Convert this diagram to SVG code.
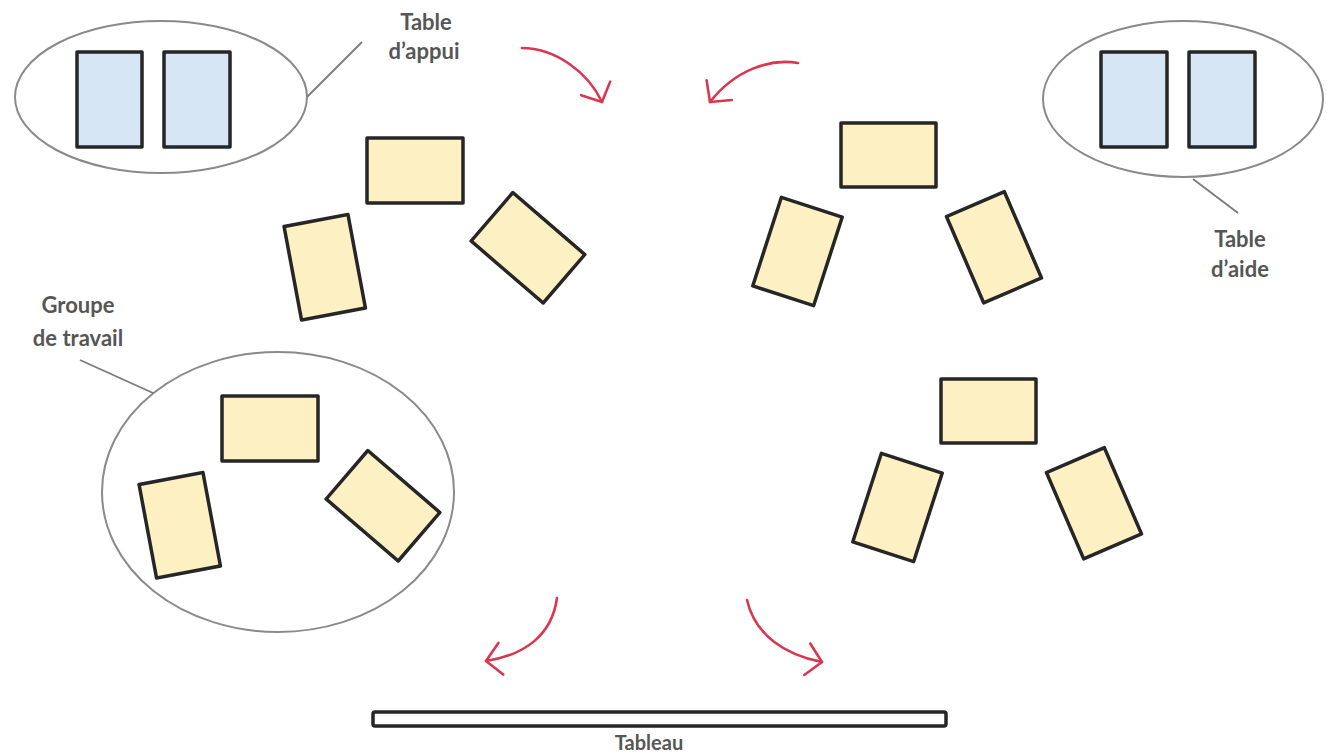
<svg xmlns="http://www.w3.org/2000/svg" width="1327" height="756" viewBox="0 0 1327 756">
<style>
.bg{fill:#ffffff}
.zone{fill:none;stroke:#8a8a8a;stroke-width:2}
.desk{fill:#fdf0c2;stroke:#262626;stroke-width:3.5;stroke-linejoin:round}
.aid{fill:#d6e6f5;stroke:#262626;stroke-width:3.5;stroke-linejoin:round}
.board{fill:#ffffff;stroke:#262626;stroke-width:3.5}
.lead{fill:none;stroke:#7a7a7a;stroke-width:1.8}
.flow{fill:none;stroke:#d8384f;stroke-width:2.6;stroke-linecap:round}
.lbl{font-family:Lato,"Liberation Sans",sans-serif;font-weight:bold;font-size:22px;fill:#565656;text-anchor:middle}
</style>
<defs>
<marker id="v" markerUnits="userSpaceOnUse" viewBox="-20 -20 24 40" refX="0" refY="0" markerWidth="24" markerHeight="40" orient="auto">
<path d="M-15,-16 L0,0 L-15,16" fill="none" stroke="#d8384f" stroke-width="2.6" stroke-linecap="round" stroke-linejoin="round"/>
</marker>
<g id="grpL">
<rect class="desk" x="367" y="138" width="96" height="65"/>
<rect class="desk" x="-32.5" y="-47.5" width="65" height="95" transform="translate(324.75 267.25) rotate(-10.6)"/>
<rect class="desk" x="-47.5" y="-32" width="95" height="64" transform="translate(528 247.75) rotate(40.7)"/>
</g>
<g id="grpR">
<rect class="desk" x="841" y="123" width="95" height="64"/>
<rect class="desk" x="-32" y="-46.5" width="64" height="93" transform="translate(797.5 251.5) rotate(17.9)"/>
<rect class="desk" x="-31.5" y="-47" width="63" height="94" transform="translate(994 247.25) rotate(-23.3)"/>
</g>
</defs>
<rect class="bg" x="0" y="0" width="1327" height="756"/>

<g id="table-appui">
<ellipse class="zone" cx="161" cy="97" rx="146" ry="76"/>
<rect class="aid" x="77" y="52" width="65" height="95"/>
<rect class="aid" x="164" y="52" width="66" height="95"/>
</g>

<g id="table-aide">
<ellipse class="zone" cx="1183" cy="99" rx="140" ry="78"/>
<rect class="aid" x="1101" y="52" width="66" height="95"/>
<rect class="aid" x="1189" y="52" width="66" height="95"/>
</g>

<g id="groupe-haut-gauche"><use href="#grpL"/></g>
<g id="groupe-travail">
<ellipse class="zone" cx="278" cy="492" rx="176" ry="140"/>
<use href="#grpL" transform="translate(-145 258)"/>
</g>
<g id="groupe-haut-droite"><use href="#grpR"/></g>
<g id="groupe-bas-droite"><use href="#grpR" transform="translate(100 256)"/></g>

<g id="tableau">
<rect class="board" x="373" y="712" width="573" height="14" rx="2"/>
</g>

<g id="connectors">
<line class="lead" x1="307" y1="97" x2="362" y2="42"/>
<line class="lead" x1="1193" y1="179" x2="1238" y2="213"/>
<line class="lead" x1="80" y1="360" x2="153" y2="393"/>
<path class="flow" d="M522,48 C555,48 588,72 602,102" marker-end="url(#v)"/>
<path class="flow" d="M798,63 C770,58 735,70 710,102" marker-end="url(#v)"/>
<path class="flow" d="M557,598 C552,635 525,655 486,661" marker-end="url(#v)"/>
<path class="flow" d="M747,600 C755,635 785,655 822,662" marker-end="url(#v)"/>
</g>

<g id="labels">
<text class="lbl" x="426" y="30">Table</text>
<text class="lbl" x="424" y="59">d’appui</text>
<text class="lbl" x="1240" y="247">Table</text>
<text class="lbl" x="1240" y="277">d’aide</text>
<text class="lbl" x="78" y="313">Groupe</text>
<text class="lbl" x="78" y="346">de travail</text>
<text class="lbl" x="649" y="750" style="font-size:20px">Tableau</text>
</g>
</svg>
